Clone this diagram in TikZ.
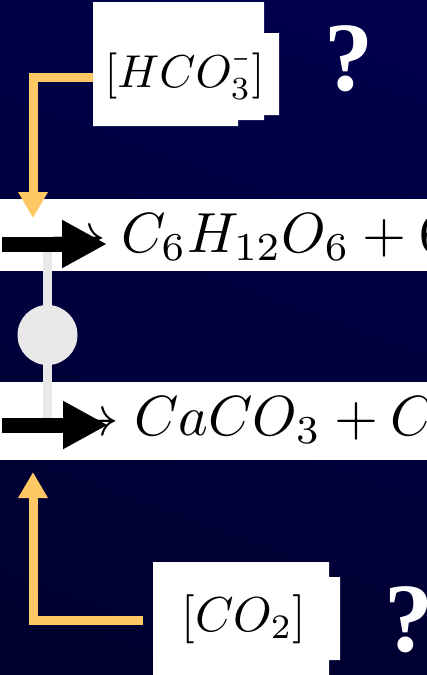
\documentclass[tikz,border=0pt]{standalone}
\usepackage{fontspec}
\newfontfamily\qfont{Liberation Serif}
\usetikzlibrary{arrows.meta}
\definecolor{navytop}{RGB}{0,0,76}
\definecolor{navybot}{RGB}{0,0,46}
\definecolor{ionorange}{RGB}{255,200,100}
\definecolor{linkgray}{RGB}{232,232,232}
\tikzset{
  chem/.style={inner sep=0pt,scale=4.9},
  eqn/.style={inner sep=0pt,scale=5.65,anchor=base west},
  qmark/.style={inner sep=0pt,text=white,font=\qfont\bfseries\fontsize{98}{98}\selectfont},
  ion/.style={ionorange,line width=9pt,line join=miter,-{Triangle[length=26pt,width=28pt]}},
  push/.style={black,line width=15pt,-{Triangle[length=45pt,width=45pt]}}
}
\newcommand{\shortminus}{\scalebox{0.6}[1]{$\scriptstyle-$}}
\begin{document}
\begin{tikzpicture}[x=1pt,y=-1pt]
        \def\W{427} \def\H{675}
        \useasboundingbox (0,0) rectangle (\W,\H);
        \clip (0,0) rectangle (\W,\H);
        \shade[top color=navytop,bottom color=navybot,shading angle=-20] (-50,-50) rectangle (\W+50,\H+50);
        % reaction bands
        \fill[white] (0,199) rectangle (\W,271);
        \fill[white] (0,382) rectangle (\W,460);
        \node[eqn] (photo) at (48,252) {$\rightarrow C_6H_{12}O_6+6O_2$};
        \node[eqn] (calc) at (61,435) {$\rightarrow CaCO_3+CO_2$};
        % ion boxes
        \fill[white] (93,2) -- (264,2) -- (264,33) -- (279,33) -- (279,115) -- (264,115)
              -- (264,120) -- (238,120) -- (238,126) -- (93,126) -- cycle;
        \fill[white] (153,562) -- (329,562) -- (329,577) -- (340,577) -- (340,660)
              -- (329,660) -- (329,\H) -- (153,\H) -- cycle;
        \node[chem,scale=0.94] (hco) at (184.5,73.5) {$[HCO_3^{\shortminus}]$};
        \node[chem] (co2) at (244,619) {$[CO_2]$};
        \coordinate (hcoout) at (93,77.5);
        \coordinate (co2out) at (143,620.5);
        \coordinate (photoin) at (33,218);
        \coordinate (calcin) at (33,472);
        \draw[ion] (hcoout) -| (photoin);
        \draw[ion] (co2out) -| (calcin);
        % coupling between the two reactions
        \coordinate (topend) at (47.5,252);
        \coordinate (botend) at (47.5,418);
        \draw[linkgray,line width=9pt] (topend) -- (botend);
        \node[circle,fill=linkgray,minimum size=60pt,inner sep=0pt] (valve) at (47.5,335) {};
        \coordinate (photoarr) at (2,244); \coordinate (phototip) at (107,244);
        \coordinate (calcarr) at (2,425); \coordinate (calctip) at (108,425);
        \draw[push] (photoarr) -- (phototip);
        \draw[push] (calcarr) -- (calctip);
        \node[qmark] (qtop) at (349,58.5) {?};
        \node[qmark] (qbot) at (409,620) {?};
    \end{tikzpicture}
\end{document}
